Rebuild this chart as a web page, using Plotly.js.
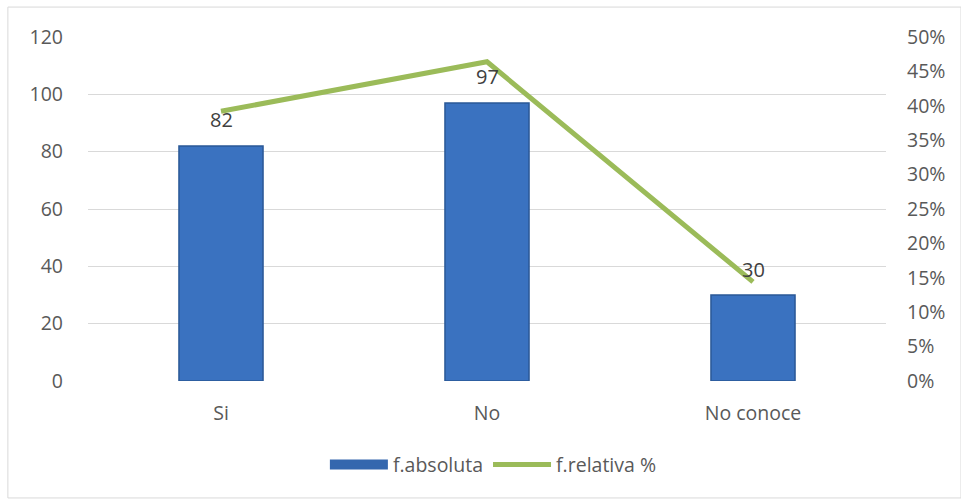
<!DOCTYPE html>
<html><head><meta charset="utf-8">
<script src="https://cdn.plot.ly/plotly-3.0.1.min.js"></script>
<style>html,body{margin:0;padding:0;background:#fff}#c{width:961px;height:499px}</style>
</head><body><div id="c"></div>
<script>
const categories = ["Si", "No", "No conoce"];
const absoluta = [82, 97, 30];
const relativa = [39.2, 46.4, 14.4];
const leftTicks = [0, 20, 40, 60, 80, 100, 120];
const rightTicks = [0, 5, 10, 15, 20, 25, 30, 35, 40, 45, 50];
const rightTickText = rightTicks.map(v => v + "%");

const font = {family: "Open Sans, Liberation Sans, sans-serif", size: 19.5, color: "#595959"};

const traces = [
  {type: "bar", name: "f.absoluta", x: categories, y: absoluta, showlegend: false,
   marker: {color: "#3A72C0", line: {color: "#2A5896", width: 1.5}},
   hoverinfo: "none"},
  // legend-only entry giving the wide bar swatch
  {type: "scatter", mode: "lines", name: "f.absoluta", x: [null], y: [null],
   line: {color: "#3467AE", width: 10}, hoverinfo: "none"},
  {type: "scatter", mode: "lines", name: "f.relativa %", x: categories, y: relativa, yaxis: "y2",
   line: {color: "#9BBB59", width: 5}, hoverinfo: "none"}
];

const annotations = categories.map((c, i) => ({
  x: c, y: absoluta[i], xref: "x", yref: "y", text: String(absoluta[i]),
  showarrow: false, yshift: 26, font: {family: font.family, size: 20, color: "#404040"}
}));

const layout = {
  width: 961, height: 499,
  margin: {l: 88, r: 75, t: 37, b: 118},
  paper_bgcolor: "#fff", plot_bgcolor: "#fff",
  font: font,
  bargap: 0.684,
  showlegend: true,
  legend: {orientation: "h", x: 0.508, xanchor: "center", y: -0.244, yanchor: "middle",
           font: {family: font.family, size: 19.5, color: "#595959"}, itemwidth: 58, traceorder: "normal"},
  xaxis: {type: "category", showgrid: false, zeroline: false, showline: false,
          ticks: "", ticklabelstandoff: 18, tickfont: font},
  yaxis: {range: [0, 120], tickvals: leftTicks, showgrid: true, gridcolor: "#D9D9D9", gridwidth: 1,
          zeroline: false, showline: false, ticks: "", ticklabelstandoff: 24, tickfont: font},
  yaxis2: {range: [0, 50], overlaying: "y", side: "right", tickvals: rightTicks, ticktext: rightTickText,
           showgrid: false, zeroline: false, showline: false, ticks: "", ticklabelstandoff: 20, tickfont: font},
  annotations: annotations,
  shapes: [{type: "rect", xref: "paper", yref: "paper", x0: -0.1004, x1: 1.094, y0: -0.34, y1: 1.087,
            line: {color: "#D9D9D9", width: 1}, layer: "below"}]
};

Plotly.newPlot("c", traces, layout, {staticPlot: true, displayModeBar: false});
</script></body></html>
